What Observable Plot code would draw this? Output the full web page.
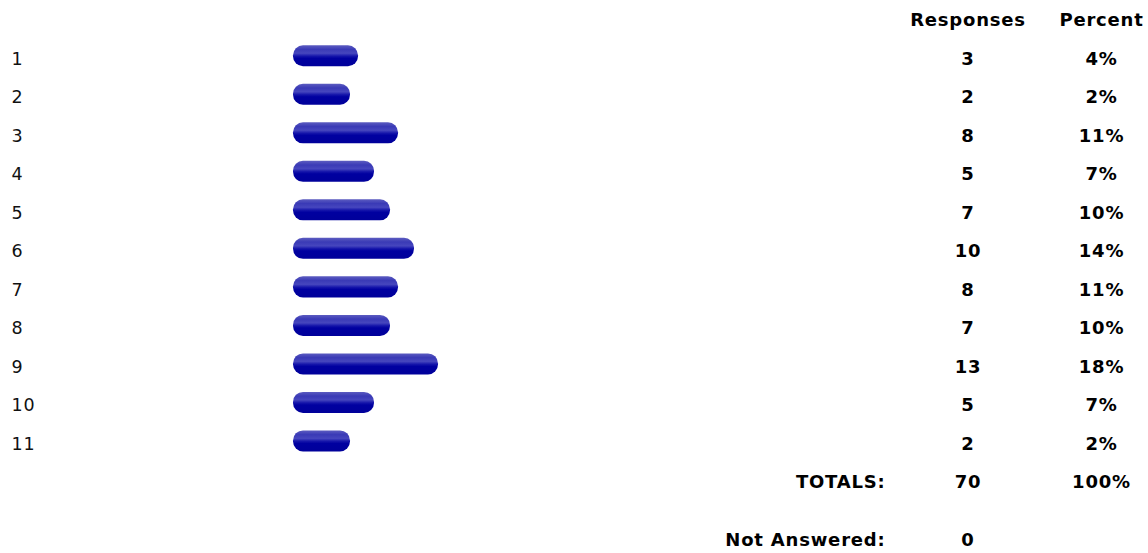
<!DOCTYPE html>
<html><head><meta charset="utf-8">
<script src="https://cdn.jsdelivr.net/npm/d3@7"></script>
<script src="https://cdn.jsdelivr.net/npm/@observablehq/plot@0.6"></script>
<style>body{margin:0;background:#fff;}</style>
</head><body><div id="chart"></div>
<script>
const categories = ["1","2","3","4","5","6","7","8","9","10","11"];
const responses = [3,2,8,5,7,10,8,7,13,5,2];
const percents = ["4%","2%","11%","7%","10%","14%","11%","10%","18%","7%","2%"];
const headers = ["Responses","Percent"];
const totalLabel = "TOTALS:";
const totalResponses = 70;
const totalPercent = "100%";
const notAnsweredLabel = "Not Answered:";
const notAnswered = 0;

const rows = categories.map((c, i) => ({cat: c, n: responses[i], pct: percents[i], row: i + 1}));
const totalRow = categories.length + 1;
const naRow = categories.length + 2.5;

const RESP_X = 967.5, PCT_X = 1101, LABEL_RIGHT = 885;
const font = "'DejaVu Sans', Verdana, sans-serif";
const bold = {fontWeight: "bold", fontSize: 18, fill: "#000", textAnchor: "middle", frameAnchor: "left"};

const plot = Plot.plot({
  width: 1148, height: 553, margin: 0,
  x: {domain: [0, 13], range: [334, 438], axis: null},
  y: {domain: [0, 13.5], range: [20, 540], axis: null},
  style: {fontFamily: font, fontSize: "18px", color: "#000", background: "#fff", letterSpacing: "0.8px"},
  marks: [
    Plot.rect(rows, {x1: 0, x2: "n", y1: d => d.row - 0.5, y2: d => d.row + 0.5,
      insetTop: 6, insetBottom: 11.5, insetLeft: -41, rx: 10, fill: "url(#pill)"}),
    Plot.text(rows, {text: "cat", y: "row", frameAnchor: "left", dx: 11, textAnchor: "start", fill: "#111", fontSize: 17.5}),
    Plot.text(rows, {...bold, text: d => String(d.n), y: "row", dx: RESP_X}),
    Plot.text(rows, {...bold, text: "pct", y: "row", dx: PCT_X}),
    Plot.text([headers[0]], {...bold, text: d => d, y: 0, dx: RESP_X}),
    Plot.text([headers[1]], {...bold, text: d => d, y: 0, dx: PCT_X}),
    Plot.text([totalLabel], {...bold, text: d => d, y: totalRow, dx: LABEL_RIGHT, textAnchor: "end"}),
    Plot.text([totalResponses], {...bold, text: d => String(d), y: totalRow, dx: RESP_X}),
    Plot.text([totalPercent], {...bold, text: d => d, y: totalRow, dx: PCT_X}),
    Plot.text([notAnsweredLabel], {...bold, text: d => d, y: naRow, dx: LABEL_RIGHT, textAnchor: "end"}),
    Plot.text([notAnswered], {...bold, text: d => String(d), y: naRow, dx: RESP_X})
  ]
});

const ns = "http://www.w3.org/2000/svg";
const defs = document.createElementNS(ns, "defs");
defs.innerHTML = `<linearGradient id="pill" x1="0" y1="0" x2="0" y2="1">
  <stop offset="0%" stop-color="#5c5cc0"/>
  <stop offset="20%" stop-color="#3a3ab6"/>
  <stop offset="38%" stop-color="#4646be"/>
  <stop offset="52%" stop-color="#1414aa"/>
  <stop offset="62%" stop-color="#0000a0"/>
  <stop offset="100%" stop-color="#00009a"/>
</linearGradient>`;
plot.insertBefore(defs, plot.firstChild);
document.getElementById("chart").appendChild(plot);
</script>
</body></html>
